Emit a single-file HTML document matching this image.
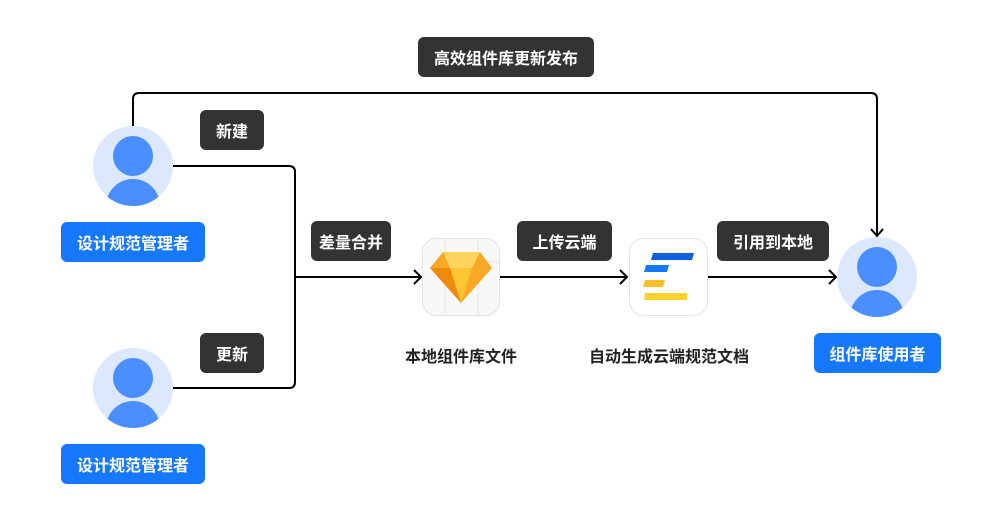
<!DOCTYPE html>
<html><head><meta charset="utf-8"><style>
body{margin:0;width:1000px;height:508px;background:#fff;position:relative;overflow:hidden;font-family:"Liberation Sans","Noto Sans CJK SC",sans-serif;}
.t{position:absolute;background:#333;color:#fff;font-size:16px;font-weight:bold;border-radius:6px;display:flex;align-items:center;justify-content:center;height:40px;}
.b{position:absolute;background:#1677ff;color:#fff;font-size:16px;font-weight:bold;border-radius:6px;display:flex;align-items:center;justify-content:center;height:40px;}
.l{position:absolute;font-size:16px;font-weight:bold;color:#222;text-align:center;width:200px;}
svg{position:absolute;left:0;top:0}
</style></head><body>
<svg width="1000" height="508">
<defs><clipPath id="c1"><circle cx="0" cy="0" r="40"/></clipPath>
<g id="av"><circle r="40" fill="#dbe8ff"/><g clip-path="url(#c1)"><circle cy="-10" r="20" fill="#4b8eff"/><ellipse cy="40" rx="27" ry="27" fill="#4b8eff"/></g></g></defs>
<g fill="none" stroke="#000" stroke-width="2">
<path d="M133 126 V99 Q133 93 139 93 H871 Q877 93 877 99 V236"/>
<path d="M871 229 L877 236 L883 229"/>
<path d="M173 166 H289 Q295 166 295 172 V382 Q295 388 289 388 H173"/>
<path d="M295 277 H421 M414 270 L421 277 L414 284"/>
<path d="M500 277 H627 M620 270 L627 277 L620 284"/>
<path d="M708 277 H836 M829 270 L836 277 L829 284"/>
</g>
<use href="#av" x="133" y="166"/>
<use href="#av" x="133" y="388"/>
<use href="#av" x="877" y="277"/>
<rect x="422.5" y="238.5" width="77" height="77" rx="14" fill="#f8f8f8" stroke="#e4e4e4"/>
<path d="M445 238.5 V315 M478 238.5V315 M445 262 H500" stroke="#e6e6e6"/>
<polygon points="443,252 480,252 492,268 461,303 430,268" fill="#f9a825"/>
<polygon points="443,252 480,252 472,268 450,268" fill="#fdd45e"/>
<polygon points="450,268 472,268 461,303" fill="#fdc534"/>
<polygon points="430,268 450,268 461,303" fill="#f08a0c"/>
<rect x="629.5" y="238.5" width="78" height="77" rx="14" fill="#fff" stroke="#e4e4e4"/>
<polygon points="653,253 694,253 692,260 651,260" fill="#0e5ee0"/>
<polygon points="646,265 669,265 667,272 644,272" fill="#1677ff"/>
<polygon points="645,280 665,280 663,287 643,287" fill="#fcbf26"/>
<polygon points="645,293 687,293 687,300 644,300" fill="#fcd22e"/>
</svg>
<div class="t" style="left:418px;top:37px;width:176px">高效组件库更新发布</div>
<div class="t" style="left:200px;top:110px;width:64px">新建</div>
<div class="t" style="left:200px;top:333px;width:64px">更新</div>
<div class="t" style="left:311px;top:221px;width:80px">差量合并</div>
<div class="t" style="left:517px;top:221px;width:95px">上传云端</div>
<div class="t" style="left:717px;top:221px;width:112px">引用到本地</div>
<div class="b" style="left:61px;top:222px;width:144px">设计规范管理者</div>
<div class="b" style="left:61px;top:444px;width:144px">设计规范管理者</div>
<div class="b" style="left:814px;top:333px;width:127px">组件库使用者</div>
<div class="l" style="left:361px;top:343px">本地组件库文件</div>
<div class="l" style="left:569px;top:343px">自动生成云端规范文档</div>
</body></html>
